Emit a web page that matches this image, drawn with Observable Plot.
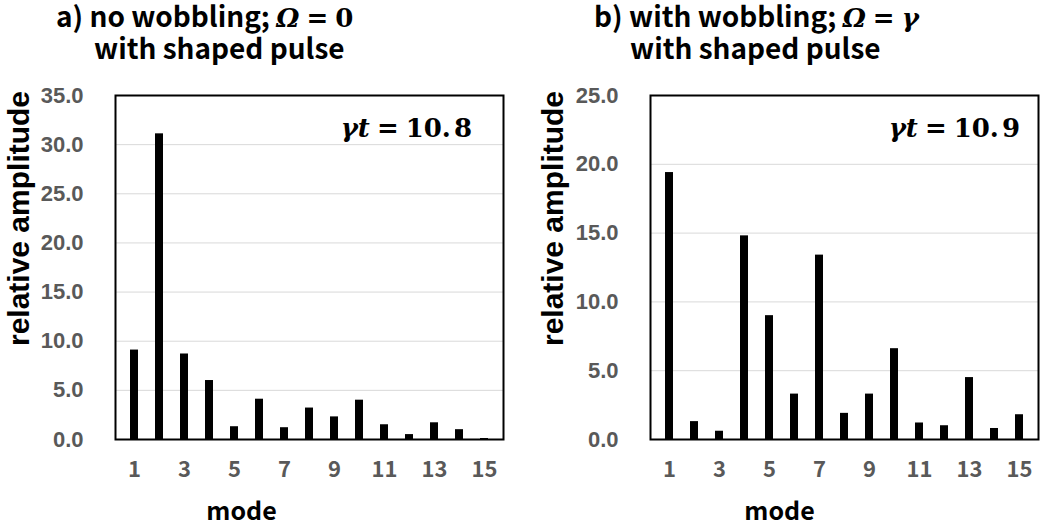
<!DOCTYPE html>
<html>
<head>
<meta charset="utf-8">
<script src="https://cdn.jsdelivr.net/npm/d3@7"></script>
<script src="https://cdn.jsdelivr.net/npm/@observablehq/plot@0.6"></script>
<style>
  html, body { margin: 0; padding: 0; background: #fff; }
  #wrap { position: relative; width: 1042px; height: 532px; overflow: hidden; }
  #charts { position: absolute; left: 0; top: 0; display: flex; }
  .title { position: absolute; white-space: nowrap; font-family: "Noto Sans CJK JP", sans-serif; font-weight: bold; font-size: 28px; color: #000; line-height: 1; }
  .math { font-family: "DejaVu Serif", "Liberation Serif", serif; font-weight: bold; font-size: 26px; }
  .it { font-style: italic; }
  .eq { margin: 0 7px; }
  .ann { position: absolute; white-space: nowrap; font-family: "DejaVu Serif", "Liberation Serif", serif; font-weight: bold; font-size: 26px; color: #000; line-height: 1; }
</style>
</head>
<body>
<div id="wrap">
  <div id="charts"></div>
  <div class="title" style="left:56px; top:1px;">a) no wobbling; <span class="math"><span class="it">Ω</span><span class="eq">=</span>0</span></div>
  <div class="title" style="left:94px; top:33px;">with shaped pulse</div>
  <div class="title" style="left:594px; top:1px;">b) with wobbling; <span class="math"><span class="it">Ω</span><span class="eq">=</span><span class="it">γ</span></span></div>
  <div class="title" style="left:630px; top:33px;">with shaped pulse</div>
  <div class="ann" style="right:570px; top:115px;"><span class="it">γt</span><span class="eq">=</span>10.<span style="margin-left:3px">8</span></div>
  <div class="ann" style="right:22px; top:115px;"><span class="it">γt</span><span class="eq">=</span>10.<span style="margin-left:3px">9</span></div>
</div>
<script>
const modes = [1, 2, 3, 4, 5, 6, 7, 8, 9, 10, 11, 12, 13, 14, 15];
const ampA = [9.1, 31.1, 8.7, 6.0, 1.3, 4.1, 1.2, 3.2, 2.3, 4.0, 1.5, 0.5, 1.7, 1.0, 0.1];
const ampB = [19.4, 1.3, 0.6, 14.8, 9.0, 3.3, 13.4, 1.9, 3.3, 6.6, 1.2, 1.0, 4.5, 0.8, 1.8];
const xTickLabels = [1, 3, 5, 7, 9, 11, 13, 15];
const yTicksA = [0, 5, 10, 15, 20, 25, 30, 35];
const yTicksB = [0, 5, 10, 15, 20, 25];
const yTitle = "relative amplitude";
const xTitle = "mode";

function panel(values, yTicks, yMax, marginLeft, marginRight, modeDx, titleDx) {
  const data = modes.map((m, i) => ({mode: m, amp: values[i]}));
  return Plot.plot({
    width: 521,
    height: 532,
    marginTop: 95,
    marginBottom: 93,
    marginLeft,
    marginRight,
    x: {type: "band", domain: modes, paddingInner: 0.68, paddingOuter: 0.34},
    y: {domain: [0, yMax]},
    marks: [
      Plot.gridY(yTicks, {stroke: "#d9d9d9", strokeOpacity: 1, strokeWidth: 1}),
      Plot.barY(data, {x: "mode", y: "amp", fill: "black"}),
      Plot.frame({stroke: "black", strokeWidth: 2}),
      Plot.axisY(yTicks, {tickSize: 0, tickPadding: 32, tickFormat: d => d.toFixed(1), label: null,
        fill: "#595959", fontSize: 22, fontWeight: "bold", fontFamily: "Liberation Sans, Arial, sans-serif"}),
      Plot.axisX(xTickLabels, {tickSize: 0, tickPadding: 22, label: null,
        fill: "#595959", fontSize: 22, fontWeight: "bold", fontFamily: "Noto Sans CJK JP, sans-serif"}),
      Plot.text([yTitle], {frameAnchor: "left", textAnchor: "middle", lineAnchor: "middle", dx: titleDx, dy: -49, rotate: -90, text: d => d,
        fontSize: 30, fontWeight: "bold", fontFamily: "Liberation Sans, Arial, sans-serif", fill: "black"}),
      Plot.text([xTitle], {frameAnchor: "bottom", dx: modeDx, dy: 72, lineAnchor: "middle", text: d => d,
        fontSize: 25, fontWeight: "bold", fontFamily: "Noto Sans CJK JP, sans-serif", fill: "black"})
    ]
  });
}

const charts = document.getElementById("charts");
charts.appendChild(panel(ampA, yTicksA, 35, 115, 18, -68, -96));
charts.appendChild(panel(ampB, yTicksB, 25, 129, 4, -65, -97));
</script>
</body>
</html>
